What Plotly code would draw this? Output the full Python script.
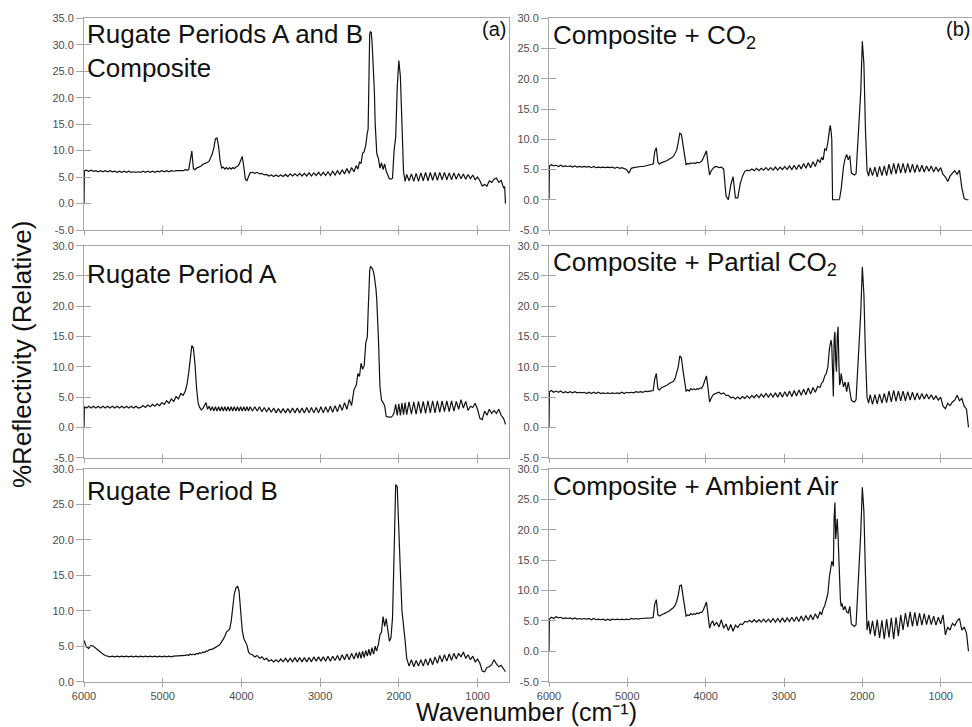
import plotly.graph_objects as go

# Wavenumber sampling (cm-1)
WN = [6000, 5995,
      5970, 5940, 5910, 5880, 5850, 5820, 5790, 5760, 5730, 5700, 5670, 5640, 5610, 5580, 5550,
      5520, 5490, 5460, 5430, 5400, 5370, 5340, 5310, 5280, 5250, 5220, 5190, 5160, 5130, 5100,
      5070, 5040, 5010, 4980, 4950, 4920, 4890, 4860, 4830, 4800, 4770, 4740, 4710,
      4690, 4670, 4650, 4630, 4610, 4590, 4570, 4550, 4530, 4510, 4490, 4470, 4450, 4430, 4410,
      4390, 4370, 4350, 4330, 4310, 4290, 4270, 4250, 4230, 4210, 4190, 4170, 4150, 4130, 4110,
      4090, 4070, 4050, 4030, 4010, 3990, 3970, 3950, 3930, 3910, 3890,
      3860, 3830, 3800, 3770, 3740, 3710, 3680, 3650, 3620, 3590, 3560, 3530, 3500, 3470, 3440,
      3410, 3380, 3350, 3320, 3290, 3260, 3230, 3200, 3170, 3140, 3110, 3080, 3050, 3020, 2990,
      2960, 2930, 2900, 2870, 2840, 2810, 2780, 2750, 2720, 2690, 2660, 2630, 2600, 2570, 2540,
      2520, 2500, 2480, 2460, 2440, 2420, 2410, 2400, 2390, 2380, 2370, 2360, 2350, 2340, 2330,
      2320, 2310, 2300, 2290, 2280, 2270, 2260, 2240, 2220, 2200, 2180, 2160, 2140, 2120, 2100,
      2080, 2060, 2040, 2020, 2000, 1980, 1960, 1940, 1920, 1900,
      1870, 1840, 1810, 1780, 1750, 1720, 1690, 1660, 1630, 1600, 1570, 1540, 1510, 1480, 1450,
      1420, 1390, 1360, 1330, 1300, 1270, 1240, 1210, 1180, 1150, 1120, 1090, 1060, 1030, 1000,
      970, 940, 910, 880, 850, 820, 790, 760, 730, 700, 670,
      655, 645]

# (a) top: Rugate Periods A and B Composite
REF_AB = ([0, 6.2] +
    [6.3, 6.1, 6.3, 6.1, 6.2, 6.0, 6.2, 6.0, 6.2, 6.0, 6.2, 6.0, 6.1, 5.9, 6.1, 5.9, 6.1, 5.9, 6.1, 5.9,
     6.0, 5.9, 6.0, 5.9, 6.1, 5.9, 6.1, 5.9, 6.1, 5.9, 6.1, 6.0, 6.2, 6.0, 6.2, 6.0, 6.2, 6.1, 6.2, 6.2,
     6.3, 6.2, 6.4] +
    [6.3, 6.4, 8.6, 9.9, 6.6, 6.4, 6.7, 6.8, 7.0, 7.1, 7.4, 7.5, 7.7, 7.8, 8.0, 8.6, 9.4, 10.5, 12.2, 12.4,
     10.8, 8.0, 6.7, 6.9, 6.5, 6.8, 6.5, 6.8, 6.5, 6.8, 6.6, 6.9, 7.0, 7.4, 8.0, 8.9, 7.0, 4.6, 4.3, 5.2,
     5.8] +
    [5.9, 5.7, 5.9, 5.6, 5.7, 5.4, 5.5, 5.2, 5.4, 5.1, 5.4, 5.1, 5.4, 5.1, 5.5, 5.1, 5.6, 5.2, 5.6, 5.2,
     5.7, 5.2, 5.7, 5.2, 5.8, 5.2, 5.8, 5.3, 5.9, 5.3, 5.9, 5.3, 6.0, 5.3, 6.1, 5.4, 6.2, 5.5, 6.4, 5.6,
     6.6, 5.7, 6.8, 6.0, 7.2] +
    [6.5, 7.8, 7.6, 9.5, 9.8, 11.0,
     13.3, 13.4, 14.0, 28.0, 32.0, 32.5, 32.3, 30.5, 28.0, 25.5, 21.0, 15.0, 11.0, 9.5, 8.9,
     8.6, 6.7, 7.7, 6.4, 7.5, 6.1, 5.2, 4.7, 4.6, 4.8, 10.0, 12.5, 22.0, 27.0, 24.0, 14.0, 6.0, 4.2, 5.5] +
    [4.3, 5.6, 4.2, 5.7, 4.2, 5.8, 4.3, 5.9, 4.3, 5.9, 4.4, 5.9, 4.4, 5.9, 4.5, 5.9, 4.5, 5.8, 4.5, 5.8,
     4.6, 5.7, 4.7, 5.6, 4.6, 5.5, 4.7, 5.4, 4.5, 5.0, 4.3, 3.3, 3.6, 3.3, 4.3, 4.0, 4.6, 4.8, 4.0, 4.4,
     3.0] +
    [3.2, 0.0])

# (b) top: Composite + CO2
COMP_CO2 = ([0, 5.6] +
    [5.8, 5.6, 5.7, 5.5, 5.7, 5.5, 5.6, 5.5, 5.6, 5.4, 5.6, 5.4, 5.5, 5.4, 5.5, 5.4, 5.5, 5.3, 5.5, 5.3,
     5.4, 5.3, 5.4, 5.3, 5.4, 5.3, 5.4, 5.2, 5.4, 5.2, 5.3, 5.2, 5.0, 4.4, 5.2, 5.3, 5.4, 5.4, 5.5, 5.5,
     5.6, 5.6, 5.7] +
    [5.8, 5.9, 8.0, 8.6, 6.2, 5.9, 6.1, 6.2, 6.3, 6.3, 6.5, 6.7, 6.8, 7.0, 7.2, 7.6, 8.2, 9.5, 11.0, 10.8,
     9.0, 7.2, 5.8, 6.0, 5.9, 6.1, 6.0, 6.1, 6.0, 6.2, 6.1, 6.2, 6.4, 6.9, 7.5, 8.1, 6.0, 4.1, 4.8, 5.2,
     5.4] +
    [5.5, 5.3, 5.4, 5.1, 0.6, 0.0, 2.4, 3.8, 0.3, 0.3, 2.6, 3.9, 4.7, 4.9,
     4.8, 5.1, 4.8, 5.2, 4.8, 5.2, 4.9, 5.3, 4.9, 5.3, 4.9, 5.4, 4.9, 5.4, 5.0, 5.5, 5.0, 5.6, 5.0, 5.7,
     5.0, 5.8, 5.1, 6.0, 5.2, 6.1, 5.3, 6.3, 5.5, 6.6, 6.2] +
    [7.0, 6.6, 8.4, 8.2, 9.5, 11.5,
     12.3, 11.5, 10.0, 0.0, 0.0, 0.0, 0.0, 0.0, 0.0, 0.0, 0.0, 0.0, 0.2, 0.8, 1.8,
     3.0, 5.5, 6.8, 7.5, 6.6, 7.3, 4.4, 4.2, 4.1, 4.3, 9.0, 12.3, 18.0, 26.2, 22.5, 11.5, 4.8, 3.9, 5.3] +
    [4.0, 5.4, 3.8, 5.5, 4.0, 5.6, 4.0, 5.9, 4.2, 6.0, 4.3, 6.0, 4.4, 6.0, 4.4, 6.0, 4.5, 5.9, 4.5, 5.8,
     4.6, 5.7, 4.6, 5.6, 4.7, 5.6, 4.6, 5.4, 4.7, 5.3, 4.2, 3.8, 3.0, 3.9, 4.4, 4.8, 4.2, 4.9, 2.0, 0.2,
     0.0] +
    [0.0, 0.0])

# (a) middle: Rugate Period A
PERIOD_A = ([0, 3.4] +
    [3.2, 3.5, 3.2, 3.5, 3.2, 3.5, 3.2, 3.5, 3.2, 3.5, 3.2, 3.5, 3.2, 3.5, 3.2, 3.5, 3.2, 3.5, 3.2, 3.5,
     3.2, 3.5, 3.2,
     3.3, 3.6, 3.3, 3.7, 3.4, 3.8, 3.5, 3.9, 3.6, 4.1, 3.8, 4.4, 4.0, 4.7, 4.3, 5.1, 4.7, 5.6, 5.3, 6.1] +
    [7.2, 9.0, 11.8, 13.5, 13.1, 10.5, 6.5, 4.0, 3.3, 2.9, 3.1, 3.7, 4.1, 3.0, 3.5, 2.8, 3.4, 2.7, 3.4, 2.7,
     3.4, 2.7, 3.4, 2.7, 3.4, 2.7, 3.4, 2.7, 3.4, 2.7, 3.4, 2.7, 3.4, 2.7, 3.4, 2.7, 3.4, 2.7, 3.4, 2.7,
     3.4] +
    [2.7, 3.4, 2.7, 3.4, 2.6, 3.3, 2.6, 3.2, 2.5, 3.2, 2.4, 3.1, 2.4, 3.1, 2.4, 3.1, 2.4, 3.2, 2.4, 3.2,
     2.4, 3.2, 2.4, 3.3, 2.4, 3.3, 2.4, 3.3, 2.4, 3.4, 2.4, 3.4, 2.5, 3.5, 2.5, 3.6, 2.6, 3.8, 2.8, 4.1,
     3.0, 4.6, 3.6, 6.2, 7.0] +
    [8.9, 8.4, 10.6, 9.6, 10.2, 13.9,
     14.5, 15.0, 19.0, 23.5, 25.8, 26.6, 26.5, 26.3, 26.0, 25.6, 24.8, 24.0, 22.8, 21.0, 18.5,
     15.0, 6.8, 4.5, 4.1, 3.6, 1.8, 1.7, 1.7, 1.7, 1.9, 2.4, 3.8, 2.0, 3.9, 2.0, 4.0, 2.1, 4.1, 2.1] +
    [4.2, 2.2, 4.2, 2.2, 4.3, 2.3, 4.3, 2.3, 4.4, 2.4, 4.4, 2.4, 4.4, 2.5, 4.4, 2.6, 4.4, 2.6, 4.4, 2.7,
     4.3, 3.0, 4.6, 3.2, 4.3, 2.8, 3.5, 3.3, 4.0, 3.0, 1.5, 1.3, 2.7, 2.0, 3.0, 2.3, 2.8, 2.3, 3.0, 2.0,
     1.5] +
    [1.0, 0.5])

# (b) middle: Composite + Partial CO2
COMP_PARTIAL = ([0, 5.9] +
    [6.1, 5.8, 6.0, 5.8, 6.0, 5.7, 5.9, 5.7, 5.9, 5.7, 5.9, 5.7, 5.8, 5.7, 5.8, 5.6, 5.8, 5.6, 5.8, 5.6,
     5.8, 5.6, 5.7, 5.6, 5.7, 5.6, 5.7, 5.6, 5.7, 5.6, 5.8, 5.6, 5.8, 5.7, 5.8, 5.7, 5.9, 5.8, 5.9, 5.8,
     6.0, 5.9, 6.0] +
    [6.0, 6.1, 8.0, 8.9, 6.4, 6.2, 6.5, 6.6, 6.7, 6.8, 7.0, 7.2, 7.3, 7.5, 7.6, 8.1, 9.0, 10.0, 11.8, 11.5,
     9.5, 7.5, 6.0, 6.2, 6.0, 6.4, 6.2, 6.4, 6.2, 6.4, 6.3, 6.5, 6.5, 7.0, 7.6, 8.5, 6.5, 4.2, 4.8, 5.3,
     5.5] +
    [5.7, 5.8, 5.5, 5.7, 5.3, 5.3, 4.9, 5.0, 4.7, 5.0, 4.7, 5.1, 4.8, 5.2, 4.8, 5.3, 4.9, 5.4, 4.9, 5.5,
     5.0, 5.6, 5.0, 5.6, 5.0, 5.7, 5.0, 5.8, 5.0, 5.9, 5.1, 6.0, 5.1, 6.1, 5.2, 6.2, 5.3, 6.3, 5.4, 6.5,
     5.5, 6.6, 5.8, 6.8, 6.6] +
    [7.3, 7.6, 8.5, 8.9, 10.0, 13.0,
     14.0, 14.4, 13.5, 8.0, 5.1, 14.5, 15.8, 11.0, 9.2, 15.0, 16.6, 11.0, 7.0, 7.5, 8.9,
     8.0, 6.7, 7.5, 5.9, 7.5, 6.0, 4.5, 4.3, 4.2, 4.6, 9.0, 12.6, 19.0, 26.5, 22.0, 12.0, 5.0, 4.0, 5.4] +
    [3.8, 5.4, 3.9, 5.5, 4.0, 5.6, 4.1, 6.0, 4.2, 6.1, 4.3, 6.0, 4.4, 6.0, 4.4, 5.9, 4.5, 5.8, 4.5, 5.7,
     4.6, 5.6, 4.7, 5.5, 4.7, 5.4, 4.6, 5.2, 4.5, 5.0, 3.5, 3.1, 4.0, 3.6, 4.2, 4.5, 5.3, 4.4, 4.8, 3.5,
     3.0] +
    [1.0, 0.0])

# (a) bottom: Rugate Period B
PERIOD_B = ([5.8, 5.6] +
    [4.9, 4.7, 5.1, 5.0, 4.7, 4.5, 4.2, 3.9, 3.7, 3.6,
     3.5, 3.6, 3.5, 3.6, 3.5, 3.6, 3.5, 3.6, 3.5, 3.6, 3.5, 3.6, 3.5, 3.6, 3.5, 3.6, 3.5, 3.6, 3.5, 3.6,
     3.5, 3.6, 3.5, 3.6, 3.5, 3.6, 3.5, 3.6, 3.6, 3.7, 3.6, 3.7, 3.7] +
    [3.8, 3.7, 3.9, 3.8, 3.9, 3.8, 4.0, 3.9, 4.1, 4.0, 4.2, 4.1, 4.3, 4.3, 4.5, 4.5, 4.6, 4.7, 4.8, 4.9,
     5.1, 5.3, 5.6, 6.0, 6.4, 7.0, 7.2, 7.4, 8.5, 10.2, 12.4, 13.2, 13.5, 12.8, 10.5, 7.3, 6.1, 5.7, 5.2, 4.2,
     3.9] +
    [3.8, 3.5, 3.7, 3.3, 3.5, 3.1, 3.3, 2.9, 3.1, 2.8, 3.1, 2.8, 3.2, 2.8, 3.3, 2.8, 3.3, 2.8, 3.4, 2.8,
     3.4, 2.8, 3.4, 2.8, 3.4, 2.8, 3.5, 2.9, 3.5, 2.9, 3.5, 2.9, 3.6, 2.9, 3.6, 3.0, 3.7, 3.0, 3.8, 3.1,
     3.9, 3.1, 4.0, 3.2, 4.1] +
    [3.3, 4.2, 3.3, 4.3, 3.4, 4.4,
     4.0, 3.6, 4.1, 4.6, 4.0, 3.7, 4.3, 4.8, 4.2, 3.9, 4.5, 5.0, 4.5, 4.4, 4.9,
     5.2, 6.6, 7.0, 9.2, 7.8, 8.9, 7.0, 5.7, 6.2, 9.0, 18.0, 27.8, 27.5, 22.5, 15.5, 10.0, 8.2, 5.8, 3.3] +
    [2.2, 3.1, 2.1, 3.0, 2.2, 3.1, 2.2, 3.2, 2.3, 3.3, 2.4, 3.5, 2.6, 3.7, 2.8, 3.8, 2.9, 3.9, 3.0, 4.0,
     3.2, 4.0, 3.5, 4.2, 3.3, 3.8, 3.1, 3.6, 2.8, 3.2, 2.6, 1.5, 1.4, 2.0, 2.1, 2.4, 3.1, 2.5, 2.1, 2.3,
     1.8] +
    [1.5, 1.4])

# (b) bottom: Composite + Ambient Air
COMP_AIR = ([0, 5.3] +
    [5.6, 5.4, 5.7, 5.5, 5.6, 5.4, 5.5, 5.4, 5.5, 5.3, 5.5, 5.3, 5.4, 5.3, 5.4, 5.3, 5.4, 5.2, 5.4, 5.2,
     5.3, 5.2, 5.3, 5.1, 5.3, 5.1, 5.3, 5.2, 5.3, 5.2, 5.3, 5.2, 5.3, 5.2, 5.4, 5.3, 5.4, 5.3, 5.4, 5.4,
     5.5, 5.4, 5.5] +
    [5.5, 5.6, 7.8, 8.5, 6.0, 5.8, 6.0, 6.1, 6.2, 6.3, 6.5, 6.6, 6.8, 7.0, 7.2, 7.6, 8.2, 9.3, 10.8, 10.9,
     9.0, 7.2, 5.8, 6.0, 5.9, 6.2, 6.0, 6.2, 6.1, 6.3, 6.2, 6.4, 6.4, 6.8, 7.4, 8.1, 6.0, 3.8, 4.6, 5.0,
     4.2] +
    [4.8, 4.0, 5.2, 3.8, 4.5, 3.4, 4.4, 3.3, 4.3, 3.9, 4.5, 4.4, 4.9, 4.8, 5.1, 4.8, 5.2, 4.8, 5.2, 4.8,
     5.3, 4.8, 5.3, 4.8, 5.4, 4.8, 5.4, 4.8, 5.5, 4.8, 5.5, 4.9, 5.6, 4.9, 5.7, 4.9, 5.8, 5.0, 5.9, 5.1,
     6.0, 5.2, 6.2, 5.4, 6.5] +
    [6.0, 7.0, 7.5, 8.5, 9.5, 12.3,
     13.0, 13.8, 14.8, 14.5, 14.0, 22.0, 24.5, 18.5, 20.5, 21.8, 19.0, 14.0, 9.5, 8.5, 7.4,
     7.9, 6.8, 7.4, 6.5, 6.3, 7.4, 4.5, 4.3, 4.1, 4.4, 10.0, 13.0, 19.5, 27.0, 23.0, 12.5, 3.5, 5.0, 2.8] +
    [5.0, 2.5, 5.2, 2.2, 5.1, 2.0, 5.3, 2.3, 5.5, 2.0, 5.6, 2.5, 6.0, 3.5, 6.3, 4.0, 6.5, 4.1, 6.4, 4.2,
     6.3, 4.3, 6.2, 4.4, 6.0, 4.4, 5.8, 4.3, 5.6, 4.5, 6.0, 2.7, 4.0, 3.5, 4.6, 4.2, 5.0, 5.4, 3.5, 4.0,
     3.0] +
    [1.0, 0.0])

TITLES = ["Rugate Periods A and B<br>Composite", "Composite + CO<sub>2</sub>",
          "Rugate Period A", "Composite + Partial CO<sub>2</sub>",
          "Rugate Period B", "Composite + Ambient Air"]
SERIES = [REF_AB, COMP_CO2, PERIOD_A, COMP_PARTIAL, PERIOD_B, COMP_AIR]
YRANGES = [[-5, 35], [-5, 30], [-5, 30], [-5, 30], [0, 30], [-5, 30]]
XTICKS = [6000, 5000, 4000, 3000, 2000, 1000]
XRANGE = [6000, 600]

for s in SERIES:
    if len(s) != len(WN):
        raise ValueError("length mismatch %d vs %d" % (len(s), len(WN)))

W, H = 972, 727
XDOM = [[84 / W, 509 / W], [549 / W, 1.0]]
YDOM = [[1 - 230 / H, 1 - 18.3 / H], [1 - 457.7 / H, 1 - 245.7 / H], [1 - 681.7 / H, 1 - 469 / H]]
TITLE_TOP = [17, 18, 257, 245, 474, 469]

FONT = "Liberation Sans, Arial, sans-serif"
AX = "#a6a6a6"
TICKFONT = dict(family=FONT, size=11, color="#4d4d4d")

fig = go.Figure()
layout = dict(width=W, height=H, margin=dict(l=0, r=0, t=0, b=0, pad=0, autoexpand=False),
              paper_bgcolor="white", plot_bgcolor="white", showlegend=False,
              font=dict(family=FONT, color="#111"))
annotations = []

for i, (ys, yr, title) in enumerate(zip(SERIES, YRANGES, TITLES)):
    n = i + 1
    m = i + 7
    row, col = i // 2, i % 2
    xa, ya = ("x" if n == 1 else "x%d" % n), ("y" if n == 1 else "y%d" % n)
    xk, yk = ("xaxis" if n == 1 else "xaxis%d" % n), ("yaxis" if n == 1 else "yaxis%d" % n)
    fig.add_trace(go.Scatter(x=WN, y=ys, mode="lines", xaxis=xa, yaxis=ya,
                             line=dict(color="#111111", width=1.2), hoverinfo="skip"))
    fig.add_trace(go.Scatter(x=[None], y=[None], mode="lines", xaxis="x%d" % m, yaxis="y%d" % m,
                             hoverinfo="skip"))
    yticks = list(range(yr[0], yr[1] + 1, 5))
    layout[xk] = dict(domain=XDOM[col], range=XRANGE, anchor=ya, showline=True, mirror=True,
                      linecolor=AX, linewidth=1, ticks="outside", ticklen=4, tickcolor=AX,
                      tickvals=XTICKS, ticktext=[str(v) for v in XTICKS], automargin=False,
                      showticklabels=(row == 2), tickfont=TICKFONT, showgrid=False, zeroline=False)
    layout[yk] = dict(domain=YDOM[row], range=yr, anchor=xa, showline=True, mirror=True,
                      linecolor=AX, linewidth=1, ticks="outside", ticklen=7, tickcolor=AX,
                      tickvals=yticks, ticktext=["%.1f" % v for v in yticks], automargin=False,
                      tickfont=TICKFONT, showgrid=False, zeroline=False)
    layout["xaxis%d" % m] = dict(overlaying=xa, range=XRANGE, anchor="y%d" % m, ticks="inside",
                                 ticklen=4, tickcolor=AX, tickvals=XTICKS, showticklabels=False,
                                 automargin=False, showline=False, showgrid=False, zeroline=False)
    layout["yaxis%d" % m] = dict(overlaying=ya, range=yr, anchor="x%d" % m, ticks="inside",
                                 ticklen=7, tickcolor=AX, tickvals=yticks, showticklabels=False,
                                 automargin=False, showline=False, showgrid=False, zeroline=False,
                                 side="left")
    tx = 85 / W if col == 0 else 551 / W
    annotations.append(dict(text=title, xref="paper", yref="paper", x=tx, y=1 - TITLE_TOP[i] / H,
                            xanchor="left", yanchor="top", showarrow=False, align="left",
                            font=dict(family=FONT, size=26, color="#111")))

annotations += [
    dict(text="(a)", xref="paper", yref="paper", x=508 / W, y=1 - 29 / H, xanchor="right",
         yanchor="middle", showarrow=False, font=dict(family=FONT, size=20, color="#111")),
    dict(text="(b)", xref="paper", yref="paper", x=1.0, y=1 - 29 / H, xanchor="right",
         yanchor="middle", showarrow=False, font=dict(family=FONT, size=20, color="#111")),
    dict(text="%Reflectivity (Relative)", xref="paper", yref="paper", x=22 / W, y=1 - 355 / H,
         xanchor="center", yanchor="middle", textangle=-90, showarrow=False,
         font=dict(family=FONT, size=26, color="#111")),
    dict(text="Wavenumber (cm\u207b\u00b9)", xref="paper", yref="paper", x=526 / W, y=-1 / H,
         xanchor="center", yanchor="bottom", showarrow=False,
         font=dict(family=FONT, size=25, color="#111")),
]
layout["annotations"] = annotations
fig.update_layout(**layout)
fig.write_html("out.html")
